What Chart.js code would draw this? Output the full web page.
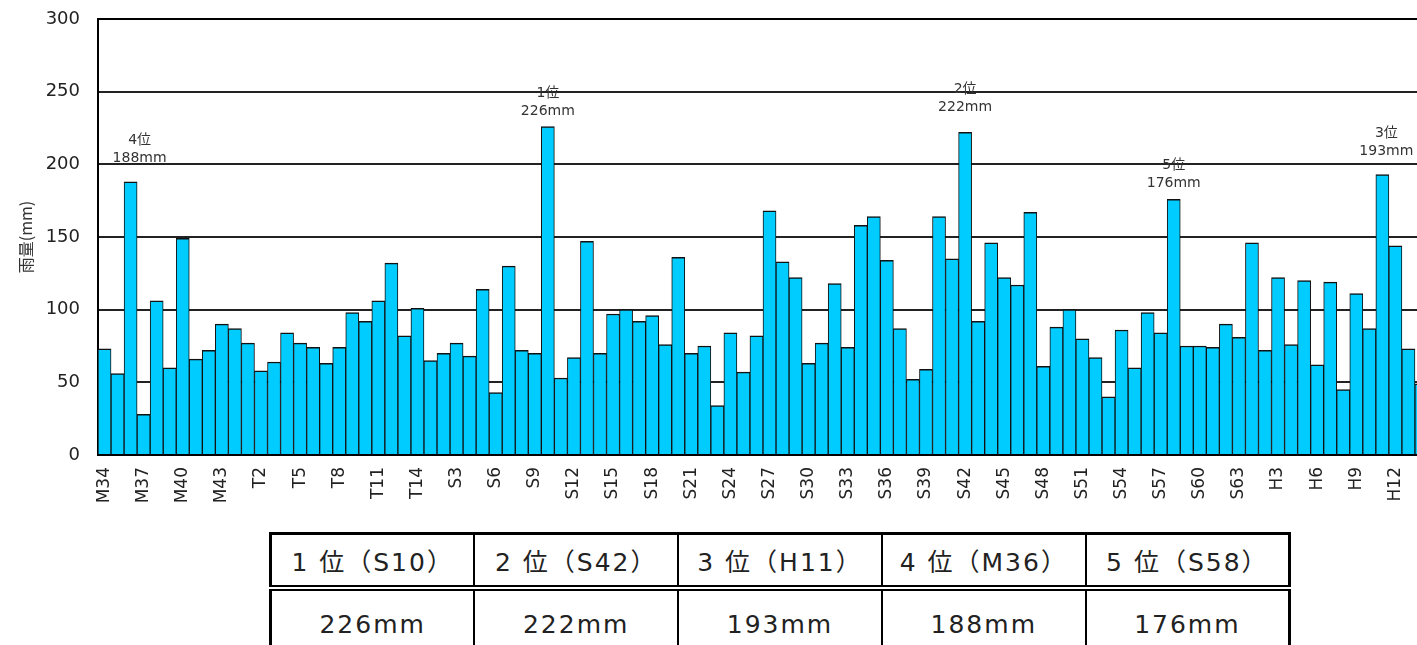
<!DOCTYPE html>
<html lang="ja">
<head>
<meta charset="utf-8">
<title>年最大日雨量</title>
<script src="https://cdn.jsdelivr.net/npm/chart.js@4.4.1/dist/chart.umd.min.js"></script>
<style>
  html, body { margin: 0; padding: 0; background: #fff; overflow: hidden; width: 1417px; height: 645px; }
  #wrap { position: absolute; left: 0; top: 0; width: 1448px; height: 520px; }
  #rank {
    position: absolute; left: 269px; top: 532px; width: 1022px;
    border-collapse: collapse; border: 3px solid #000; table-layout: fixed;
    font-family: "DejaVu Sans", "Noto Sans CJK JP", sans-serif; font-size: 25px; color: #222;
    letter-spacing: 2px;
  }
  #rank td { border: 2px solid #000; text-align: center; padding: 0; }
  #rank tr.head td { height: 50px; border-bottom: 6px double #000; }
  #rank tr.val td { height: 66px; }
</style>
</head>
<body>
<div id="wrap"><canvas id="chart" width="1448" height="520"></canvas></div>
<table id="rank"></table>
<script>
// Year labels (Meiji 34 = 1901 onwards)
const categories = [
  'M34','M35','M36','M37','M38','M39','M40','M41','M42','M43','M44',
  'T1','T2','T3','T4','T5','T6','T7','T8','T9','T10','T11','T12','T13','T14',
  'S1','S2','S3','S4','S5','S6','S7','S8','S9','S10','S11','S12','S13','S14','S15',
  'S16','S17','S18','S19','S20','S21','S22','S23','S24','S25','S26','S27','S28','S29','S30',
  'S31','S32','S33','S34','S35','S36','S37','S38','S39','S40','S41','S42','S43','S44','S45',
  'S46','S47','S48','S49','S50','S51','S52','S53','S54','S55','S56','S57','S58','S59','S60',
  'S61','S62','S63',
  'H1','H2','H3','H4','H5','H6','H7','H8','H9','H10','H11','H12','H13','H14'
];

// Annual maximum rainfall (mm)
const rainfall = [
  73, 56, 188, 28, 106, 60, 149, 66, 72, 90, 87,
  77, 58, 64, 84, 77, 74, 63, 74, 98, 92, 106, 132, 82, 101,
  65, 70, 77, 68, 114, 43, 130, 72, 70, 226, 53, 67, 147, 70, 97,
  100, 92, 96, 76, 136, 70, 75, 34, 84, 57, 82, 168, 133, 122, 63,
  77, 118, 74, 158, 164, 134, 87, 52, 59, 164, 135, 222, 92, 146, 122,
  117, 167, 61, 88, 100, 80, 67, 40, 86, 60, 98, 84, 176, 75, 75,
  74, 90, 81,
  146, 72, 122, 76, 120, 62, 119, 45, 111, 87, 193, 144, 73, 49
];

const yTicks = [0, 50, 100, 150, 200, 250, 300];

// Five wettest years, ranked
const topFive = rainfall
  .map((v, i) => ({ value: v, index: i }))
  .sort((a, b) => b.value - a.value)
  .slice(0, 5)
  .map((r, k) => ({ ...r, rank: k + 1 }));

const FONT = '"DejaVu Sans", "Noto Sans CJK JP", sans-serif';

// Small hand placement of each rank caption above its bar
const rankNudge = {
  1: { dx: 0, dy: 15 },
  2: { dx: 0, dy: 25 },
  3: { dx: 4, dy: 23 },
  4: { dx: 9, dy: 23 },
  5: { dx: 0, dy: 16 }
};

const rankLabels = {
  id: 'rankLabels',
  afterDatasetsDraw(chart) {
    const { ctx } = chart;
    const meta = chart.getDatasetMeta(0);
    ctx.save();
    ctx.font = '14px ' + FONT;
    ctx.fillStyle = '#333';
    ctx.textAlign = 'center';
    ctx.textBaseline = 'middle';
    topFive.forEach(r => {
      const bar = meta.data[r.index];
      const n = rankNudge[r.rank];
      const x = bar.x + n.dx;
      const y = bar.y - n.dy;
      ctx.fillText(r.value + 'mm', x, y);
      ctx.fillText(r.rank + '位', x, y - 18);
    });
    ctx.restore();
  }
};

new Chart(document.getElementById('chart'), {
  type: 'bar',
  data: {
    labels: categories,
    datasets: [{
      data: rainfall,
      backgroundColor: '#00CCFF',
      borderColor: '#111',
      borderWidth: { top: 1.5, left: 1, right: 1, bottom: 0 },
      borderSkipped: false,
      categoryPercentage: 1,
      barPercentage: 1
    }]
  },
  options: {
    responsive: false,
    animation: false,
    devicePixelRatio: 1,
    layout: { padding: { left: 0, right: 20, top: 19, bottom: 0 } },
    plugins: { legend: { display: false }, tooltip: { enabled: false } },
    scales: {
      x: {
        offset: true,
        grid: { display: false },
        border: { display: true, color: '#000', width: 2 },
        ticks: {
          autoSkip: false,
          maxRotation: 90,
          minRotation: 90,
          padding: 4,
          color: '#222',
          font: { family: FONT, size: 17 },
          callback(value, index) {
            return index % 3 === 0 ? this.getLabelForValue(value) : '';
          }
        },
        afterFit(scale) { scale.height = 65; }
      },
      y: {
        min: 0,
        max: 300,
        afterBuildTicks(scale) { scale.ticks = yTicks.map(v => ({ value: v })); },
        grid: {
          drawTicks: false,
          color: ctx => (ctx.tick && ctx.tick.value === 300 ? '#000' : '#222'),
          lineWidth: 2
        },
        border: { display: true, color: '#000', width: 2 },
        ticks: {
          padding: 18,
          color: '#222',
          font: { family: FONT, size: 18 }
        },
        title: {
          display: true,
          text: '雨量(mm)',
          color: '#333',
          padding: { top: 16, bottom: 0 },
          font: { family: '"Noto Sans CJK JP", sans-serif', size: 16 }
        },
        afterFit(scale) {
          scale.width = 98;
          scale.paddingTop = 0;
          scale.paddingBottom = 0;
        }
      }
    }
  },
  plugins: [rankLabels]
});

// Ranking table under the chart
const table = document.getElementById('rank');
const headRow = table.insertRow();
headRow.className = 'head';
const valRow = table.insertRow();
valRow.className = 'val';
topFive.forEach(r => {
  headRow.insertCell().textContent = `${r.rank} 位（${categories[r.index]}）`;
  valRow.insertCell().textContent = r.value + 'mm';
});
</script>
</body>
</html>
